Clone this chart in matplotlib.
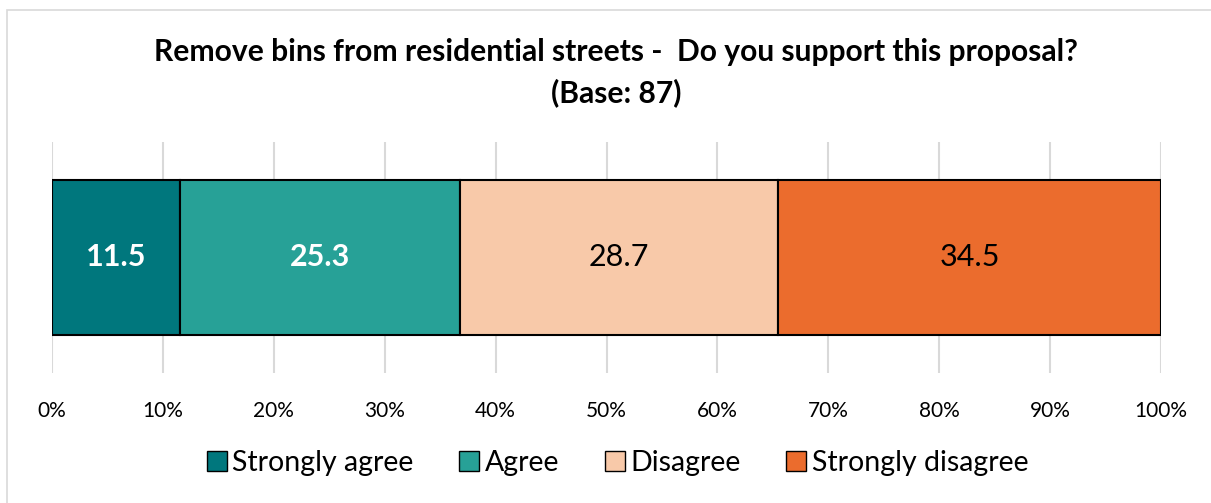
import matplotlib.pyplot as plt
from matplotlib.patches import Rectangle

categories = ['Strongly agree', 'Agree', 'Disagree', 'Strongly disagree']
values = [11.5, 25.3, 28.7, 34.5]
colors = ['#00777D', '#27A197', '#F8C9A9', '#EB6C2D']
label_colors = ['white', 'white', 'black', 'black']
label_weights = ['bold', 'bold', 'normal', 'normal']
ticks = list(range(0, 101, 10))
tick_labels = [f'{t}%' for t in ticks]

plt.rcParams['font.family'] = ['Lato', 'DejaVu Sans']

fig = plt.figure(figsize=(12.11, 5.03), dpi=100)
ax = fig.add_axes([52 / 1211, 1 - 373 / 503, 1109 / 1211, 231 / 503])

# chart border
fig.patches.append(Rectangle((7 / 1211, -0.1), 1.2, 1 - 10 / 503 + 0.1,
                             transform=fig.transFigure, fill=False,
                             edgecolor='#D9D9D9', linewidth=1.2))

left = 0
for v, c, lc, lw in zip(values, colors, label_colors, label_weights):
    ax.barh(0, v, left=left, height=0.671, color=c, edgecolor='black',
            linewidth=1.5, zorder=3)
    ax.text(left + v / 2, 0, f'{v}', ha='center', va='center',
            color=lc, fontsize=22, fontweight=lw, zorder=4)
    left += v

ax.set_xlim(0, 100)
ax.set_ylim(-0.5, 0.5)
ax.set_xticks(ticks)
ax.set_xticklabels(tick_labels, fontsize=15)
ax.set_yticks([])
ax.tick_params(axis='x', length=0, pad=20)
ax.grid(axis='x', color='#D9D9D9', linewidth=1.5, zorder=0)
for s in ax.spines.values():
    s.set_visible(False)

fig.text(0.509, 1 - 52 / 503, 'Remove bins from residential streets -  Do you support this proposal?',
         ha='center', va='center', fontsize=21.6, fontweight='bold')
fig.text(0.509, 1 - 93 / 503, '(Base: 87)', ha='center', va='center',
         fontsize=21.6, fontweight='bold')

handles = [Rectangle((0, 0), 1, 1, facecolor=c, edgecolor='black', linewidth=1)
           for c in colors]
fig.legend(handles, categories, loc='center', bbox_to_anchor=(0.510, 1 - 463 / 503),
           ncol=4, frameon=False, fontsize=20.5, handlelength=0.7, handleheight=0.7,
           handletextpad=0.2, columnspacing=1.6)

fig.savefig('out.png', dpi=100)
